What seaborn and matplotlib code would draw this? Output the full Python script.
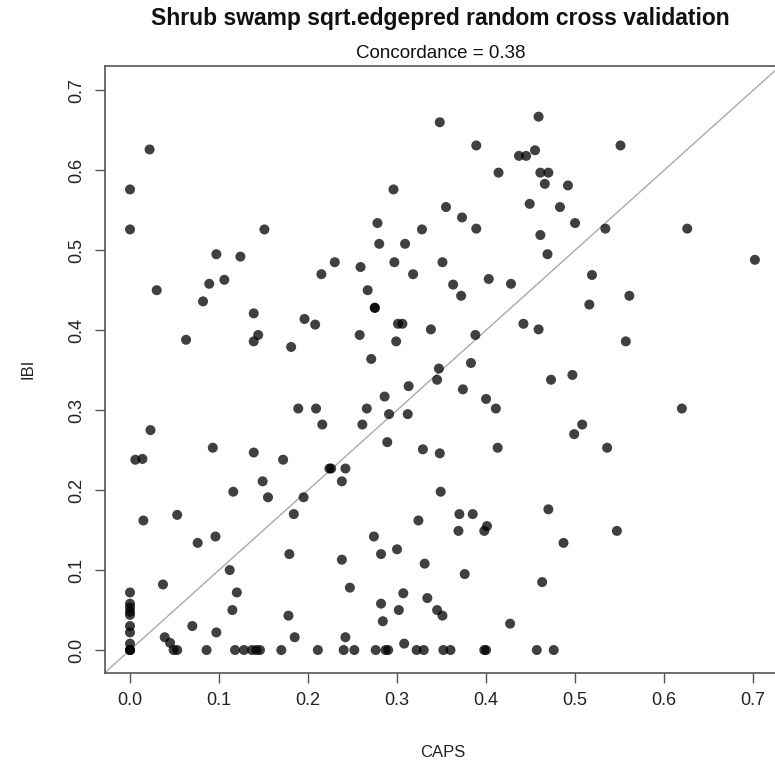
import matplotlib
matplotlib.use("Agg")
import matplotlib.pyplot as plt
import seaborn as sns
import pandas as pd

caps = [
    0, 0, 0, 0, 0, 0, 0, 0, 0, 0, 0, 0, 0,
    0.022, 0.151, 0.097, 0.124,
    0.348, 0.459, 0.389, 0.437, 0.445, 0.455, 0.414, 0.461, 0.470, 0.466, 0.296, 0.449, 0.355, 0.373,
    0.278, 0.389, 0.328, 0.461, 0.280, 0.309, 0.469, 0.230, 0.351, 0.297, 0.259,
    0.551, 0.492, 0.483, 0.500, 0.534, 0.626, 0.702,
    0.215, 0.030, 0.089, 0.106, 0.082, 0.139, 0.196, 0.208, 0.144, 0.139, 0.063, 0.181, 0.189, 0.209,
    0.216, 0.023, 0.093, 0.139, 0.006, 0.014, 0.172, 0.224,
    0.318, 0.267, 0.363, 0.372, 0.403, 0.428, 0.275, 0.275, 0.301, 0.306, 0.338, 0.442, 0.459, 0.258,
    0.299, 0.388, 0.271, 0.383, 0.347, 0.345, 0.473, 0.313, 0.374, 0.286, 0.400, 0.411, 0.266, 0.291,
    0.312, 0.261, 0.289, 0.329, 0.348, 0.413, 0.226, 0.242,
    0.519, 0.561, 0.516, 0.557, 0.497, 0.620, 0.508, 0.499, 0.536,
    0.149, 0.116, 0.155, 0.195, 0.015, 0.053, 0.184, 0.096, 0.076, 0.179, 0.112, 0.037, 0.120, 0.115,
    0.178, 0.070, 0.097, 0.185, 0.039, 0.045, 0.049, 0.053, 0.086, 0.118, 0.128, 0.137, 0.142, 0.146,
    0.170, 0.211,
    0.238, 0.349, 0.370, 0.385, 0.324, 0.369, 0.398, 0.401, 0.470, 0.274, 0.282, 0.300, 0.238, 0.331,
    0.376, 0.463, 0.247, 0.307, 0.282, 0.334, 0.302, 0.345, 0.351, 0.284, 0.427, 0.242, 0.308,
    0.240, 0.252, 0.276, 0.287, 0.290, 0.322, 0.330, 0.352, 0.360, 0.398, 0.400, 0.457, 0.476,
    0.547, 0.487,
]
ibi = [
    0.576, 0.526, 0.072, 0.058, 0.053, 0.048, 0.044, 0.030, 0.022, 0.008, 0, 0, 0,
    0.626, 0.526, 0.495, 0.492,
    0.660, 0.667, 0.631, 0.618, 0.618, 0.625, 0.597, 0.597, 0.597, 0.583, 0.576, 0.558, 0.554, 0.541,
    0.534, 0.527, 0.526, 0.519, 0.508, 0.508, 0.495, 0.485, 0.485, 0.485, 0.479,
    0.631, 0.581, 0.554, 0.534, 0.527, 0.527, 0.488,
    0.470, 0.450, 0.458, 0.463, 0.436, 0.421, 0.414, 0.407, 0.394, 0.386, 0.388, 0.379, 0.302, 0.302,
    0.282, 0.275, 0.253, 0.247, 0.238, 0.239, 0.238, 0.227,
    0.470, 0.450, 0.457, 0.443, 0.464, 0.458, 0.428, 0.428, 0.408, 0.408, 0.401, 0.408, 0.401, 0.394,
    0.386, 0.394, 0.364, 0.359, 0.352, 0.338, 0.338, 0.330, 0.326, 0.317, 0.314, 0.302, 0.302, 0.295,
    0.295, 0.282, 0.260, 0.251, 0.246, 0.253, 0.227, 0.227,
    0.469, 0.443, 0.432, 0.386, 0.344, 0.302, 0.282, 0.270, 0.253,
    0.211, 0.198, 0.191, 0.191, 0.162, 0.169, 0.170, 0.142, 0.134, 0.120, 0.100, 0.082, 0.072, 0.050,
    0.043, 0.030, 0.022, 0.016, 0.016, 0.009, 0, 0, 0, 0, 0, 0, 0, 0,
    0, 0,
    0.211, 0.198, 0.170, 0.170, 0.162, 0.149, 0.149, 0.155, 0.176, 0.142, 0.120, 0.126, 0.113, 0.108,
    0.095, 0.085, 0.078, 0.071, 0.058, 0.065, 0.050, 0.050, 0.043, 0.036, 0.033, 0.016, 0.008,
    0, 0, 0, 0, 0, 0, 0, 0, 0, 0, 0, 0, 0,
    0.149, 0.134,
]
ticks = [0.0, 0.1, 0.2, 0.3, 0.4, 0.5, 0.6, 0.7]
tick_labels = ["0.0", "0.1", "0.2", "0.3", "0.4", "0.5", "0.6", "0.7"]
title = "Shrub swamp sqrt.edgepred random cross validation"
subtitle = "Concordance = 0.38"

df = pd.DataFrame({"CAPS": caps, "IBI": ibi})

sns.set_theme(style="white")
plt.rcParams["font.family"] = ["Liberation Sans", "DejaVu Sans"]

fig = plt.figure(figsize=(7.75, 7.65), dpi=100)
ax = fig.add_axes([105 / 775, (765 - 672.5) / 765, 675.7 / 775, 607 / 765])

lo, hi = -0.0281, 0.731
ax.plot([lo, hi], [lo, hi], color="#aaaaaa", lw=1.0, zorder=1)
sns.scatterplot(data=df, x="CAPS", y="IBI", ax=ax, color="black", alpha=0.75,
                s=52, edgecolor="none", linewidth=0, zorder=2)

ax.set_xlim(lo, hi)
ax.set_ylim(lo, hi)
ax.set_xticks(ticks)
ax.set_xticklabels(tick_labels)
ax.set_yticks(ticks)
ax.set_yticklabels(tick_labels, rotation=90, va="center")
ax.tick_params(axis="both", direction="out", length=7, width=1, color="#555555",
               labelsize=13, labelcolor="#222222", pad=7, bottom=True, left=True)
for sp in ax.spines.values():
    sp.set_color("#555555")
    sp.set_linewidth(1.2)

ax.set_xlabel("CAPS", fontsize=12, color="#222222", labelpad=26)
ax.set_ylabel("IBI", fontsize=12, color="#222222", labelpad=24)
fig.text(440 / 775, 1 - 18 / 765, title, ha="center", va="center",
         fontsize=16.5, fontweight="bold", color="#111111")
fig.text(441 / 775, 1 - 53 / 765, subtitle, ha="center", va="center",
         fontsize=13.5, color="#111111")

fig.savefig("out.png", dpi=100)
